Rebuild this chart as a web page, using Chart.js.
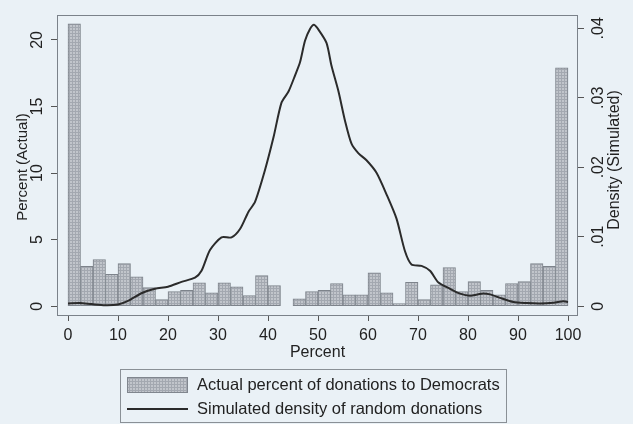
<!DOCTYPE html>
<html>
<head>
<meta charset="utf-8">
<script src="https://cdn.jsdelivr.net/npm/chart.js@4/dist/chart.umd.min.js"></script>
<style>
  html, body { margin: 0; padding: 0; background: #eaf1f6; }
  #wrap { width: 633px; height: 424px; position: relative; }
</style>
</head>
<body>
<div id="wrap"><canvas id="combo-chart"></canvas></div>
<script>
// histogram bins (centre of each 2.5-point bin) and their share in percent
var binCenters = [1.25, 3.75, 6.25, 8.75, 11.25, 13.75, 16.25, 18.75, 21.25, 23.75,
  26.25, 28.75, 31.25, 33.75, 36.25, 38.75, 41.25, 43.75, 46.25, 48.75,
  51.25, 53.75, 56.25, 58.75, 61.25, 63.75, 66.25, 68.75, 71.25, 73.75,
  76.25, 78.75, 81.25, 83.75, 86.25, 88.75, 91.25, 93.75, 96.25, 98.75];
var actualPct = [21.2, 3.0, 3.5, 2.4, 3.2, 2.2, 1.4, 0.5, 1.1, 1.2,
  1.75, 1.0, 1.75, 1.45, 0.8, 2.3, 1.55, 0, 0.55, 1.1,
  1.2, 1.7, 0.85, 0.85, 2.5, 1.0, 0.2, 1.8, 0.5, 1.6,
  2.9, 1.1, 1.85, 1.2, 0.85, 1.7, 1.85, 3.2, 3.0, 17.9];

// simulated density curve
var densityX = [0, 2.4, 4.7, 7.4, 10, 12, 14.8, 17.4, 20, 22.7,
  25.4, 26.7, 28.4, 30.7, 32.7, 34.4, 36.1, 37.4, 39.4, 41.1,
  42.7, 44.1, 45.4, 46.4, 47.4, 48.4, 49.2, 50.1, 51.7, 52.7,
  54.1, 55.4, 56.7, 58.1, 59.7, 61.7, 63.7, 65.7, 67.4, 68.7,
  70.7, 72.4, 74.1, 76.4, 78.4, 80.4, 82.7, 84.4, 86.4, 89.1,
  91.7, 94.4, 97.1, 99.1, 100];
var densityY = [0.0004, 0.00046, 0.0003, 0.00014, 0.00024, 0.00075, 0.0019, 0.0025, 0.0028, 0.0035,
  0.0041, 0.0051, 0.0081, 0.0099, 0.0099, 0.0111, 0.0136, 0.0150, 0.0196, 0.0243,
  0.0293, 0.0309, 0.0332, 0.0351, 0.0382, 0.0399, 0.0405, 0.0398, 0.0379, 0.0346,
  0.0309, 0.0267, 0.0234, 0.0220, 0.0210, 0.0192, 0.0161, 0.0126, 0.0079, 0.0060,
  0.0058, 0.0051, 0.0034, 0.0025, 0.0018, 0.0015, 0.0018, 0.0017, 0.0012, 0.0006,
  0.00046, 0.0004, 0.0005, 0.0007, 0.0006];

var xTicks = [0, 10, 20, 30, 40, 50, 60, 70, 80, 90, 100];
var pctTicks = [0, 5, 10, 15, 20];
var densTicks = [0, 0.01, 0.02, 0.03, 0.04];

var legendLabels = ["Actual percent of donations to Democrats", "Simulated density of random donations"];

Chart.defaults.font.family = "'Liberation Sans', Arial, Helvetica, sans-serif";
Chart.defaults.font.size = 16;
Chart.defaults.color = '#222';

// grey grid-hatched fill like the stata bars
function gridPattern(ctx) {
  var c = document.createElement('canvas');
  c.width = 3; c.height = 3;
  var p = c.getContext('2d');
  p.fillStyle = '#c1c5cb';
  p.fillRect(0, 0, 3, 3);
  p.fillStyle = '#a3a8b0';
  p.fillRect(0, 0, 3, 1);
  p.fillRect(0, 0, 1, 3);
  return ctx.createPattern(c, 'repeat');
}

var ctx = document.getElementById('combo-chart').getContext('2d');
var barFill = gridPattern(ctx);

var framePlugin = {
  id: 'frame',
  afterDraw: function(chart) {
    var c = chart.ctx, a = chart.chartArea;
    c.save();
    c.strokeStyle = '#7b828a';
    c.lineWidth = 1;
    c.strokeRect(Math.round(a.left) + 0.5, Math.round(a.top) + 0.5, Math.round(a.right - a.left) - 1, Math.round(a.bottom - a.top));

    // both vertical titles read bottom to top
    c.fillStyle = '#222';
    c.textAlign = 'center';
    c.textBaseline = 'middle';
    c.font = "15px 'Liberation Sans', Arial, sans-serif";
    c.save();
    c.translate(23, 167);
    c.rotate(-Math.PI / 2);
    c.fillText('Percent (Actual)', 0, 0);
    c.restore();
    c.font = "16px 'Liberation Sans', Arial, sans-serif";
    c.translate(615, 160);
    c.rotate(-Math.PI / 2);
    c.fillText('Density (Simulated)', 0, 0);
    c.restore();

    // boxed legend, one row each
    c.save();
    c.strokeStyle = '#8a9096';
    c.lineWidth = 1;
    c.strokeRect(120.5, 369.5, 386, 53);
    c.fillStyle = barFill;
    c.fillRect(127, 377, 61, 16);
    c.strokeStyle = '#80868e';
    c.strokeRect(127.5, 377.5, 60, 15);
    c.strokeStyle = '#2b2b2b';
    c.lineWidth = 2;
    c.beginPath();
    c.moveTo(127, 409);
    c.lineTo(188, 409);
    c.stroke();
    c.fillStyle = '#222';
    c.font = "16.5px 'Liberation Sans', Arial, sans-serif";
    c.textAlign = 'left';
    c.textBaseline = 'middle';
    c.fillText(legendLabels[0], 197, 385);
    c.fillText(legendLabels[1], 197, 409);
    c.restore();
  }
};

new Chart(document.getElementById('combo-chart'), {
  data: {
    datasets: [
      {
        type: 'line',
        label: legendLabels[1],
        data: densityX.map(function(x, i) { return {x: x, y: densityY[i]}; }),
        yAxisID: 'y1',
        borderColor: '#2b2b2b',
        borderWidth: 2,
        pointRadius: 0,
        tension: 0.25,
        order: 0,
      },
      {
        type: 'bar',
        label: legendLabels[0],
        data: binCenters.map(function(x, i) { return {x: x, y: actualPct[i]}; }),
        yAxisID: 'y',
        backgroundColor: barFill,
        borderColor: '#7d838b',
        borderWidth: 1,
        borderSkipped: false,
        barPercentage: 1,
        categoryPercentage: 1,
        order: 1,
      }
    ]
  },

  options: {
    responsive: true,
    maintainAspectRatio: false,
    animation: false,
    layout: {
      padding: {top: 8, bottom: 54, left: 0, right: 0}
    },
    plugins: {
      legend: { display: false },
      tooltip: { enabled: false }
    },
    scales: {
      x: {
        type: 'linear',
        offset: false,
        min: -2.2,
        max: 102,
        afterBuildTicks: function(s) { s.ticks = xTicks.map(function(v) { return {value: v}; }); },
        afterFit: function(s) { s.height = 55; },
        grid: {
          offset: false,
          drawOnChartArea: false,
          tickLength: 6,
          color: '#555',
        },
        border: { display: false },
        ticks: {
          maxRotation: 0,
          padding: 5,
        },
        title: {
          display: true,
          text: 'Percent',
          padding: {top: 0, bottom: 8},
        }
      },
      y: {
        position: 'left',
        min: -0.66,
        max: 21.9,
        afterBuildTicks: function(s) { s.ticks = pctTicks.map(function(v) { return {value: v}; }); },
        afterFit: function(s) { s.width = 57; },
        grid: {
          drawOnChartArea: false,
          tickLength: 6,
          color: '#555',
        },
        border: { display: false },
        ticks: {
          minRotation: 90,
          maxRotation: 90,
          crossAlign: 'center',
          padding: 5,
        }
      },
      y1: {
        position: 'right',
        min: -0.00127,
        max: 0.04197,
        afterBuildTicks: function(s) { s.ticks = densTicks.map(function(v) { return {value: v}; }); },
        afterFit: function(s) { s.width = 55; },
        grid: {
          drawOnChartArea: false,
          tickLength: 6,
          color: '#555',
        },
        border: { display: false },
        ticks: {
          minRotation: 90,
          maxRotation: 90,
          crossAlign: 'center',
          padding: 3,
          callback: function(v) { return v === 0 ? '0' : v.toFixed(2).replace(/^0/, ''); }
        }
      }
    }
  },
  plugins: [framePlugin]
});
</script>
</body>
</html>
